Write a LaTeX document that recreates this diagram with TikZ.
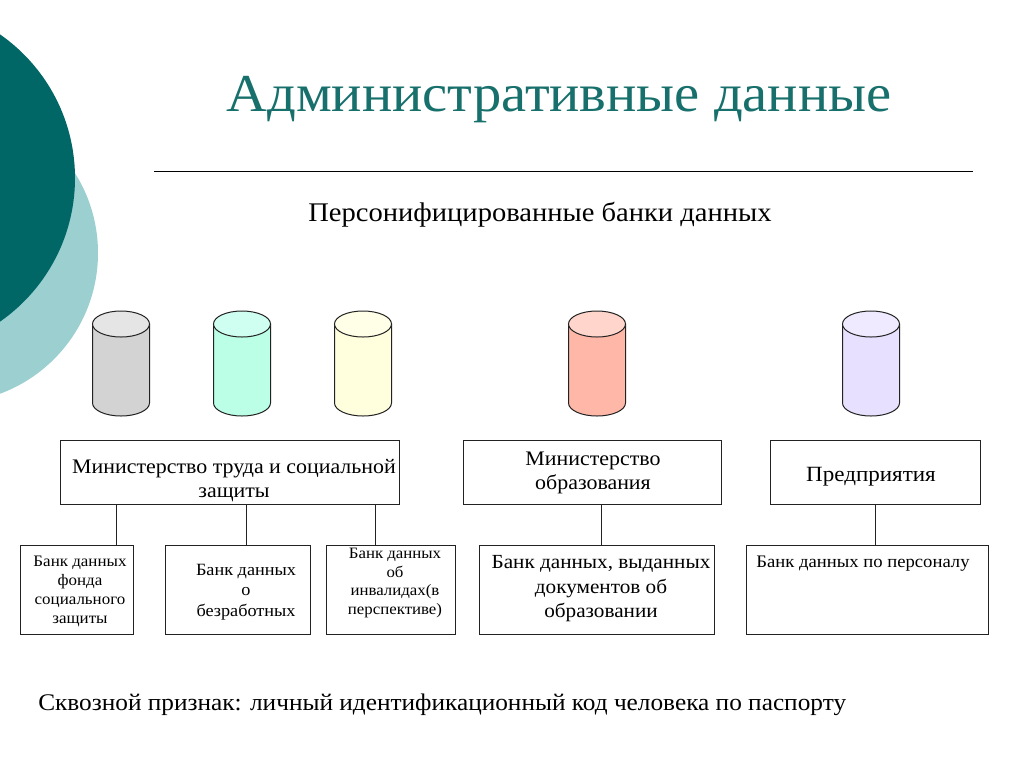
\documentclass[tikz,border=0pt]{standalone}
\usepackage{fontspec}
\setmainfont{Liberation Serif}
\newfontfamily\widefont[FakeStretch=1.06]{Liberation Serif}
\definecolor{dteal}{HTML}{006666}
\definecolor{lteal}{HTML}{9CCFD0}
\definecolor{ttl}{HTML}{17706C}
\definecolor{edge}{HTML}{222222}
\tikzset{
 px/.style={x=0.75pt,y=-0.75pt},
 boxa/.style={draw=edge,line width=0.75pt,fill=white,inner sep=0pt},
 conn/.style={draw=edge,line width=0.7pt},
 txt/.style={align=center,inner sep=0pt},
}
\newcommand{\fs}[2]{\widefont\fontsize{#1pt}{#2pt}\selectfont}
\newcommand{\cyl}[3]{%
 \draw[draw=edge,line width=0.75pt,fill=#2] (#1-28.5,324) -- (#1-28.5,403) arc[x radius=28.5,y radius=13,start angle=180,end angle=0] -- (#1+28.5,324) -- cycle;
 \draw[draw=edge,line width=0.75pt,fill=#3] (#1,324) ellipse[x radius=28.5,y radius=13];
}
\begin{document}
\begin{tikzpicture}[px]
\useasboundingbox (0,0) rectangle (1024,768);
\fill[white] (0,0) rectangle (1024,768);
\begin{scope}
\clip (0,0) rectangle (1024,768);
\fill[lteal] (-52,253) circle[radius=150];
\fill[dteal] (-100,178) circle[radius=175];
\end{scope}
\node[txt,font=\fs{40}{48},text=ttl] (title) at (559,100) {Административные данные};
\coordinate (ra) at (154,171); \coordinate (rb) at (973,171);
\draw[line width=0.6pt] (ra) -- (rb);
\node[txt,font=\fs{20.2}{24}] (sub) at (540,215) {Персонифицированные банки данных};
\definecolor{c1}{HTML}{D3D3D3}\definecolor{t1}{HTML}{E5E5E5}
\definecolor{c2}{HTML}{BBFFE6}\definecolor{t2}{HTML}{CFFFF0}
\definecolor{c3}{HTML}{FFFFDD}\definecolor{t3}{HTML}{FFFFE8}
\definecolor{c4}{HTML}{FFB8A8}\definecolor{t4}{HTML}{FFD5CC}
\definecolor{c5}{HTML}{E8E0FF}\definecolor{t5}{HTML}{EFEAFF}
\cyl{121}{c1}{t1}
\cyl{242}{c2}{t2}
\cyl{363}{c3}{t3}
\cyl{597}{c4}{t4}
\cyl{871}{c5}{t5}
\node[boxa,minimum width=254.25pt,minimum height=48pt] (m1) at (229.5,472) {};
\node[boxa,minimum width=193.5pt,minimum height=48pt] (m2) at (592,472) {};
\node[boxa,minimum width=157.5pt,minimum height=48pt] (m3) at (875,472) {};
\node[txt,font=\fs{15.5}{18}] at (234,481) {Министерство труда и социальной\\защиты};
\node[txt,font=\fs{15.5}{18}] at (593,473) {Министерство\\образования};
\node[txt,font=\fs{16.3}{18}] at (871,477) {Предприятия};
\node[boxa,minimum width=84.75pt,minimum height=66.75pt] (b1) at (76.5,589.5) {};
\node[boxa,minimum width=108.75pt,minimum height=66.75pt] (b2) at (237.5,589.5) {};
\node[boxa,minimum width=96.75pt,minimum height=66.75pt] (b3) at (390.5,589.5) {};
\node[boxa,minimum width=176.25pt,minimum height=66.75pt] (b4) at (597,589.5) {};
\node[boxa,minimum width=181.5pt,minimum height=66.75pt] (b5) at (867,589.5) {};
\node[txt,font=\fs{12}{14.25}] at (80,591) {Банк данных\\фонда\\социального\\защиты};
\node[txt,font=\fs{12.9}{15.4}] at (246,592) {Банк данных\\о\\безработных};
\node[txt,font=\fs{11.9}{14}] at (395,583) {Банк данных\\об\\инвалидах(в\\перспективе)};
\node[txt,font=\fs{15}{18.4}] at (601,589) {Банк данных, выданных\\документов об\\образовании};
\node[txt,font=\fs{13.2}{16}] at (863,564) {Банк данных по персоналу};
\coordinate (x1) at (116.5,0);
\coordinate (x2) at (246,0);
\coordinate (x3) at (375,0);
\coordinate (x4) at (601,0);
\coordinate (x5) at (875,0);
\draw[conn] (b1.north -| x1) -- (m1.south -| x1);
\draw[conn] (b2.north -| x2) -- (m1.south -| x2);
\draw[conn] (b3.north -| x3) -- (m1.south -| x3);
\draw[conn] (b4.north -| x4) -- (m2.south -| x4);
\draw[conn] (b5.north -| x5) -- (m3.south -| x5);
\node[txt,font=\fs{17.9}{21},anchor=west] (foot) at (38,705) {Сквозной признак: личный идентификационный код человека по паспорту};
\end{tikzpicture}
\end{document}
